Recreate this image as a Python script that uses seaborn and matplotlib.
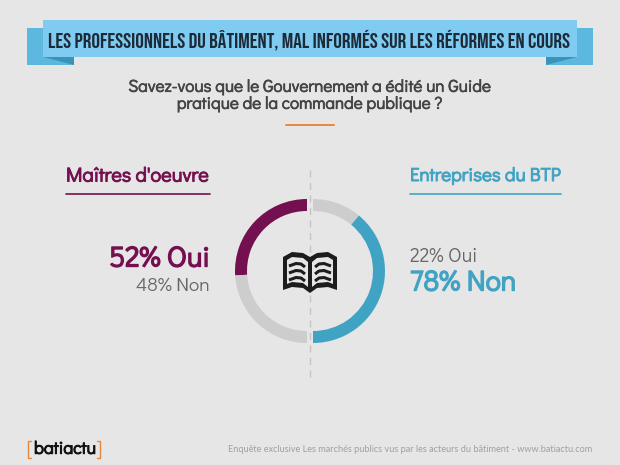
import numpy as np
from matplotlib import pyplot as plt
from matplotlib import patheffects as pe
from matplotlib.patches import Polygon, Rectangle
import seaborn as sns

W, H = 620, 465
BG = '#e6e6e6'
PURPLE = '#74104f'
BLUE = '#41a3c4'
GREY = '#cdcdcd'
ORANGE = '#e8873c'

rep_labels = ['Oui', 'Non']
moe_values = [52, 48]
btp_values = [22, 78]
moe_title = "Maîtres d'oeuvre"
btp_title = 'Entreprises du BTP'
banner = 'LES PROFESSIONNELS DU BÂTIMENT, MAL INFORMÉS SUR LES RÉFORMES EN COURS'
question = ['Savez-vous que le Gouvernement a édité un Guide',
            'pratique de la commande publique ?']
source = 'Enquête exclusive Les marchés publics vus par les acteurs du bâtiment - www.batiactu.com'

sns.set_theme(style='white', rc={'figure.facecolor': BG, 'axes.facecolor': BG})

TITLE_FONT = ['Bebas Neue', 'Lato', 'DejaVu Sans']
BODY_FONT = ['Didact Gothic', 'Lato', 'DejaVu Sans']
FOOT_FONT = ['Lato', 'DejaVu Sans']


def yy(y):
    return H - y


def heavy(color, w):
    return [pe.withStroke(linewidth=w, foreground=color)]


def half_donut(ax, values, colors, cx, counterclock):
    # the hidden third slice keeps the two answers on one half of the ring
    ax.pie(values + [100], colors=colors + ['none'], center=(cx, yy(271)), radius=72,
           startangle=90, counterclock=counterclock, frame=True,
           wedgeprops={'width': 12, 'linewidth': 0})


def book(ax):
    dark = '#1c1c1c'
    for side in (-1, 1):
        pts = [(0, 31), (side * 7, 27), (side * 18, 26), (side * 27, 31),
               (side * 27, 64), (side * 18, 61), (side * 7, 62), (0, 67)]
        ax.add_patch(Polygon([(310 + x, yy(226 + y)) for x, y in pts], fc=dark, ec='none', zorder=4))
        inner = [(side * 2, 36), (side * 7, 32), (side * 18, 31), (side * 23, 34),
                 (side * 23, 58), (side * 18, 56), (side * 7, 57), (side * 2, 61)]
        ax.add_patch(Polygon([(310 + x, yy(226 + y)) for x, y in inner], fc=BG, ec='none', zorder=5))
        for off in (0, 7, 14):
            xs = np.array([5, 9, 14, 21])
            ys = np.array([41, 38, 37.5, 40]) + off
            ax.plot(310 + side * xs, yy(226 + ys), color=dark, lw=2.2, zorder=6,
                    solid_capstyle='butt')


fig = plt.figure(figsize=(W / 100, H / 100), dpi=100)
ax = fig.add_axes([0, 0, 1, 1])

# ribbon
ribbon_back = '#5db8e0'
ribbon_fold = '#3a93b8'
ax.add_patch(Rectangle((27, yy(65.5)), 46.5, 37, fc=ribbon_back, ec='none'))
ax.add_patch(Rectangle((546, yy(65.5)), 47, 37, fc=ribbon_back, ec='none'))
ax.add_patch(Polygon([(43, yy(57)), (73.5, yy(57)), (73.5, yy(65.5))], fc=ribbon_fold, ec='none'))
ax.add_patch(Polygon([(577, yy(57)), (546, yy(57)), (546, yy(65.5))], fc=ribbon_fold, ec='none'))
ax.add_patch(Rectangle((43, yy(57)), 534, 37, fc='#7fcbf1', ec='none'))
ax.text(309.5, yy(39.5), banner, ha='center', va='center', fontsize=15.4,
        color='#1d2b38', family=TITLE_FONT)

# question
for line, y in zip(question, [87, 104]):
    ax.text(310, yy(y), line, ha='center', va='center', fontsize=12.3,
            color='#444444', family=BODY_FONT, path_effects=heavy('#444444', 0.5))
ax.plot([286, 334], [yy(125.5), yy(125.5)], color=ORANGE, lw=1.4)

# separator behind the rings
ax.plot([310, 310], [yy(170), yy(382)], color='#c4c4c4', lw=1, ls=(0, (5, 4)), zorder=1)

half_donut(ax, moe_values, [PURPLE, GREY], 307, True)
half_donut(ax, btp_values, [GREY, BLUE], 313, False)
book(ax)

# left column
ax.text(66, yy(176), moe_title, ha='left', va='center', fontsize=14.4,
        color=PURPLE, family=BODY_FONT, path_effects=heavy(PURPLE, 0.7))
ax.plot([66, 210], [yy(194), yy(194)], color=PURPLE, lw=1.2)
ax.text(210, yy(259), f'{moe_values[0]}% {rep_labels[0]}', ha='right', va='center', fontsize=20.6,
        color=PURPLE, family=BODY_FONT, path_effects=heavy(PURPLE, 1))
ax.text(210, yy(286), f'{moe_values[1]}% {rep_labels[1]}', ha='right', va='center', fontsize=13.9,
        color='#666666', family=BODY_FONT)

# right column
ax.text(410, yy(176), btp_title, ha='left', va='center', fontsize=13.6,
        color=BLUE, family=BODY_FONT, path_effects=heavy(BLUE, 0.7))
ax.plot([410, 561], [yy(194), yy(194)], color=BLUE, lw=1.2)
ax.text(410, yy(256), f'{btp_values[0]}% {rep_labels[0]}', ha='left', va='center', fontsize=14,
        color='#666666', family=BODY_FONT)
ax.text(410, yy(283), f'{btp_values[1]}% {rep_labels[1]}', ha='left', va='center', fontsize=20.6,
        color=BLUE, family=BODY_FONT, path_effects=heavy(BLUE, 1))

# footer
ax.text(34, yy(449), 'batiactu', ha='left', va='center', fontsize=12.7,
        color='#111111', family=BODY_FONT, path_effects=heavy('#111111', 0.7))
for x0, x1 in [(31, 28), (97, 100)]:
    ax.plot([x0, x1, x1, x0], [yy(441), yy(441), yy(458), yy(458)], color=ORANGE, lw=1)
ax.text(592, yy(449), source, ha='right', va='center', fontsize=6.55, color='#a0a0a0',
        family=FOOT_FONT)

ax.set_xlim(0, W)
ax.set_ylim(0, H)
ax.axis('off')

fig.savefig('out.png', dpi=100, facecolor=BG)
